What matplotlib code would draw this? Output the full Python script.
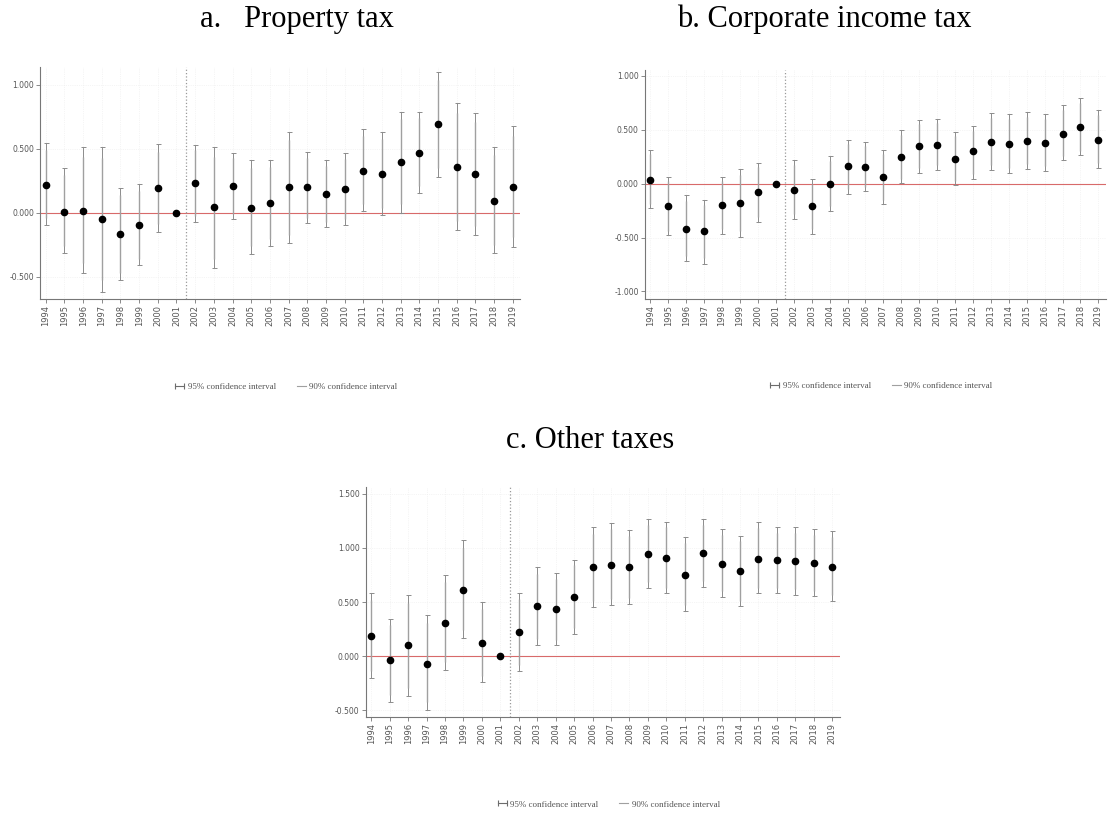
import numpy as np
import matplotlib
matplotlib.use("Agg")
import matplotlib.pyplot as plt
from matplotlib.lines import Line2D

years = list(range(1994, 2020))
ref_year = 2001

# a. Property tax
a_est = [0.219, 0.010, 0.018, -0.047, -0.164, -0.094, 0.198, 0.000, 0.237, 0.044, 0.208, 0.042, 0.076,
         0.200, 0.200, 0.146, 0.188, 0.331, 0.305, 0.396, 0.471, 0.693, 0.357, 0.305, 0.096, 0.206]
a_hi95 = [0.544, 0.349, 0.518, 0.518, 0.193, 0.224, 0.539, 0.000, 0.534, 0.518, 0.466, 0.414, 0.414,
          0.635, 0.479, 0.414, 0.466, 0.656, 0.635, 0.792, 0.792, 1.104, 0.857, 0.784, 0.518, 0.680]
a_lo95 = [-0.094, -0.315, -0.471, -0.615, -0.523, -0.406, -0.146, 0.000, -0.068, -0.432, -0.049, -0.323, -0.258,
          -0.237, -0.081, -0.107, -0.094, 0.016, -0.016, 0.003, 0.159, 0.284, -0.133, -0.172, -0.315, -0.268]
a_hi90 = [0.49, 0.30, 0.44, 0.43, 0.14, 0.17, 0.48, 0.00, 0.49, 0.44, 0.43, 0.35, 0.36,
          0.57, 0.43, 0.37, 0.42, 0.60, 0.58, 0.73, 0.74, 1.04, 0.78, 0.71, 0.45, 0.60]
a_lo90 = [-0.04, -0.26, -0.39, -0.52, -0.47, -0.36, -0.09, 0.00, -0.02, -0.36, -0.01, -0.26, -0.20,
          -0.17, -0.04, -0.07, -0.05, 0.07, 0.04, 0.07, 0.21, 0.35, -0.06, -0.10, -0.25, -0.19]

# b. Corporate income tax
b_est = [0.031, -0.210, -0.420, -0.444, -0.200, -0.179, -0.077, 0.000, -0.056, -0.210, -0.006, 0.160, 0.154,
         0.062, 0.247, 0.346, 0.358, 0.231, 0.299, 0.386, 0.370, 0.395, 0.377, 0.463, 0.525, 0.407]
b_hi95 = [0.315, 0.062, -0.108, -0.148, 0.062, 0.133, 0.194, 0.000, 0.216, 0.046, 0.256, 0.407, 0.383,
          0.309, 0.494, 0.586, 0.602, 0.478, 0.531, 0.654, 0.642, 0.664, 0.642, 0.725, 0.796, 0.679]
b_lo95 = [-0.231, -0.478, -0.719, -0.741, -0.463, -0.494, -0.355, 0.000, -0.324, -0.463, -0.253, -0.093, -0.071,
          -0.185, 0.006, 0.102, 0.130, -0.015, 0.046, 0.130, 0.099, 0.136, 0.114, 0.216, 0.262, 0.148]
b_hi90 = [0.27, 0.02, -0.16, -0.20, 0.02, 0.08, 0.15, 0.00, 0.17, 0.00, 0.21, 0.37, 0.35,
          0.27, 0.45, 0.55, 0.56, 0.44, 0.49, 0.61, 0.60, 0.62, 0.60, 0.68, 0.75, 0.64]
b_lo90 = [-0.19, -0.44, -0.67, -0.69, -0.42, -0.44, -0.31, 0.00, -0.28, -0.42, -0.21, -0.05, -0.03,
          -0.15, 0.04, 0.14, 0.17, 0.02, 0.09, 0.17, 0.14, 0.18, 0.16, 0.26, 0.30, 0.19]

# c. Other taxes
c_est = [0.190, -0.037, 0.101, -0.067, 0.307, 0.613, 0.123, 0.000, 0.224, 0.460, 0.436, 0.546, 0.819,
         0.844, 0.822, 0.945, 0.905, 0.752, 0.951, 0.850, 0.788, 0.899, 0.883, 0.874, 0.859, 0.822]
c_hi95 = [0.583, 0.347, 0.567, 0.377, 0.745, 1.074, 0.500, 0.000, 0.583, 0.822, 0.767, 0.890, 1.190,
          1.227, 1.166, 1.264, 1.242, 1.098, 1.264, 1.175, 1.113, 1.233, 1.190, 1.190, 1.172, 1.150]
c_lo95 = [-0.200, -0.420, -0.368, -0.491, -0.123, 0.169, -0.236, 0.000, -0.138, 0.101, 0.101, 0.209, 0.451,
          0.469, 0.485, 0.629, 0.583, 0.414, 0.638, 0.546, 0.460, 0.583, 0.583, 0.567, 0.552, 0.506]
c_hi90 = [0.52, 0.29, 0.49, 0.31, 0.68, 1.00, 0.44, 0.00, 0.53, 0.76, 0.71, 0.84, 1.13,
          1.17, 1.11, 1.21, 1.19, 1.04, 1.21, 1.12, 1.06, 1.18, 1.14, 1.14, 1.12, 1.10]
c_lo90 = [-0.14, -0.36, -0.29, -0.42, -0.05, 0.24, -0.18, 0.00, -0.08, 0.16, 0.15, 0.26, 0.51,
          0.53, 0.54, 0.68, 0.63, 0.47, 0.69, 0.60, 0.51, 0.63, 0.63, 0.62, 0.60, 0.56]

titles = ["a.   Property tax", "b. Corporate income tax", "c. Other taxes"]
yticks_ab = [-0.5, 0.0, 0.5, 1.0]
yticks_b = [-1.0, -0.5, 0.0, 0.5, 1.0]
yticks_c = [-0.5, 0.0, 0.5, 1.0, 1.5]

serif = ["Liberation Serif", "DejaVu Serif"]


def draw_panel(ax, est, lo95, hi95, lo90, hi90, yticks, ylim):
    x = np.array(years)
    est = np.array(est)
    keep = x != ref_year
    lo95, hi95 = np.array(lo95), np.array(hi95)
    lo90, hi90 = np.array(lo90), np.array(hi90)

    ax.grid(True, color="#ececec", lw=0.5, ls=":")
    ax.set_axisbelow(True)
    ax.axhline(0, color="#d86a6a", lw=0.8, zorder=1)
    ax.axvline(ref_year + 0.5, color="#999999", ls=":", lw=0.9, zorder=1)

    ax.errorbar(x[keep], est[keep],
                yerr=[est[keep] - lo95[keep], hi95[keep] - est[keep]],
                fmt="none", ecolor="#8c8c8c", elinewidth=0.7, capsize=1.8, capthick=0.7, zorder=2)
    ax.vlines(x[keep], lo90[keep], hi90[keep], color="#a0a0a0", lw=1.0, zorder=2)
    ax.plot(x, est, "o", color="black", ms=4.5, zorder=3)

    ax.set_xlim(years[0] - 0.3, years[-1] + 0.4)
    ax.set_ylim(*ylim)
    ax.set_xticks(years)
    ax.set_xticklabels([str(y) for y in years], rotation=90, fontsize=6, color="#555555")
    ax.set_yticks(yticks)
    ax.set_yticklabels([f"{t:.3f}" for t in yticks], fontsize=5.5, color="#555555")
    ax.tick_params(length=3, width=0.6, color="#777777", pad=1.5)
    for s in ["top", "right"]:
        ax.spines[s].set_visible(False)
    for s in ["left", "bottom"]:
        ax.spines[s].set_color("#777777")
        ax.spines[s].set_linewidth(0.8)

    h95 = Line2D([0], [0], color="#6c6c6c", lw=0.8, marker="|", ms=4, markeredgewidth=0.8)
    h90 = Line2D([0], [0], color="#a0a0a0", lw=0.8)
    leg = ax.legend([h95, h90], ["95% confidence interval", "90% confidence interval"],
                    loc="center", bbox_to_anchor=(0.51, -0.38), ncol=2, frameon=False,
                    numpoints=2, handlelength=1.6, handletextpad=0.1, columnspacing=2.0,
                    prop={"family": serif, "size": 6.5})
    for t in leg.get_texts():
        t.set_color("#555555")


fig = plt.figure(figsize=(11.15, 8.17), dpi=100)
ax_a = fig.add_axes([0.036, 0.634, 0.4305, 0.284])
ax_b = fig.add_axes([0.5785, 0.634, 0.413, 0.280])
ax_c = fig.add_axes([0.328, 0.1224, 0.425, 0.2815])

draw_panel(ax_a, a_est, a_lo95, a_hi95, a_lo90, a_hi90, yticks_ab, (-0.672, 1.14))
draw_panel(ax_b, b_est, b_lo95, b_hi95, b_lo90, b_hi90, yticks_b, (-1.07, 1.05))
draw_panel(ax_c, c_est, c_lo95, c_hi95, c_lo90, c_hi90, yticks_c, (-0.56, 1.56))

fig.text(297 / 1115, 1 - 27 / 817, titles[0], ha="center", va="baseline", fontsize=22, family=serif)
fig.text(824 / 1115, 1 - 27 / 817, titles[1], ha="center", va="baseline", fontsize=22, family=serif)
fig.text(590 / 1115, 1 - 448 / 817, titles[2], ha="center", va="baseline", fontsize=22, family=serif)

fig.savefig("out.png", dpi=100)
